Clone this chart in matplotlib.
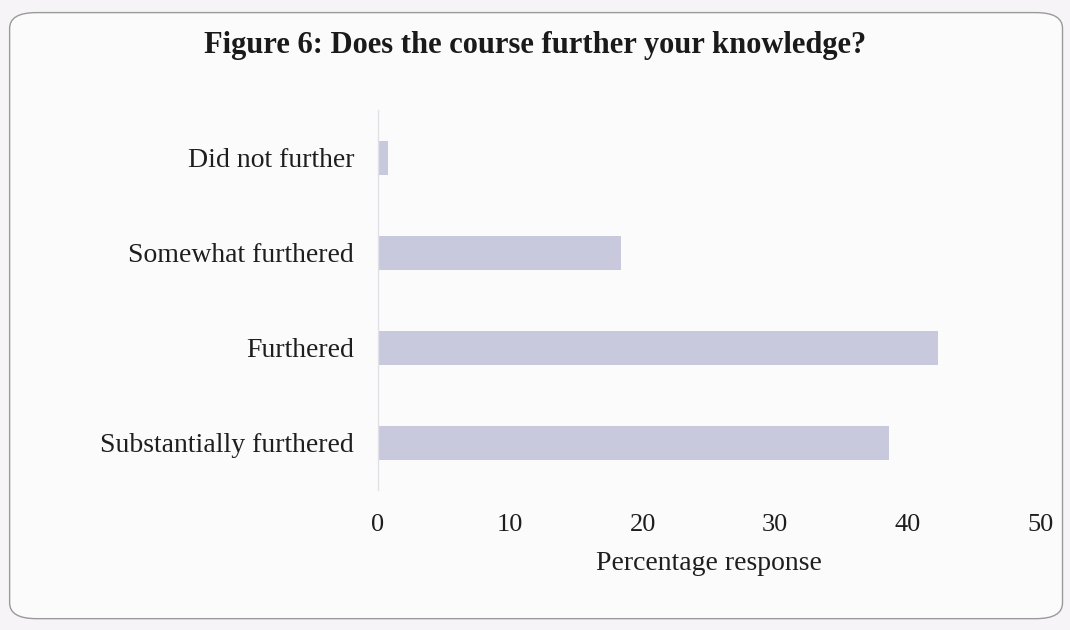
import matplotlib
matplotlib.use("Agg")
import matplotlib.pyplot as plt
from matplotlib.patches import FancyBboxPatch

# data
categories = ["Did not further", "Somewhat furthered", "Furthered", "Substantially furthered"]
percent = [0.8, 18.4, 42.3, 38.6]
xticks = [0, 10, 20, 30, 40, 50]

plt.rcParams['font.family'] = ['Liberation Serif', 'DejaVu Serif']

fig = plt.figure(figsize=(10.7, 6.3), dpi=100)
fig.patch.set_facecolor('#f6f4f7')

# rounded frame round the whole figure
frame = FancyBboxPatch((0.009, 0.018), 0.984, 0.962,
                       boxstyle="round,pad=0,rounding_size=0.025",
                       transform=fig.transFigure, facecolor='#fcfbfc',
                       edgecolor='#9a9a9a', linewidth=1.0, zorder=-5)
fig.patches.append(frame)

ax = fig.add_axes([0.353, 0.222, 0.619, 0.603])
ax.set_zorder(2)
ax.set_facecolor('none')

y = list(range(len(categories)))
ax.barh(y, percent, height=0.36, color='#c9c9dd', zorder=2)

ax.set_ylim(3.5, -0.5)
ax.set_xlim(0, 50)
ax.set_yticks(y)
ax.set_yticklabels(categories, fontsize=20, color='#1e1e1e')
ax.set_xticks(xticks)
ax.set_xticklabels([str(t) for t in xticks], fontsize=19, color='#1e1e1e')
ax.tick_params(axis='y', length=0, pad=17)
ax.tick_params(axis='x', length=0, pad=17)

for side in ['top', 'right', 'bottom']:
    ax.spines[side].set_visible(False)
ax.spines['left'].set_color('#e2e0e6')
ax.spines['left'].set_linewidth(1.0)

ax.set_xlabel("Percentage response", fontsize=20, color='#1e1e1e', labelpad=11)

fig.text(0.5, 0.927, "Figure 6: Does the course further your knowledge?",
         ha='center', va='center', fontsize=22, fontweight='bold', color='#1a1a1a',
         zorder=3)

fig.savefig("out.png", dpi=100, facecolor=fig.get_facecolor())
